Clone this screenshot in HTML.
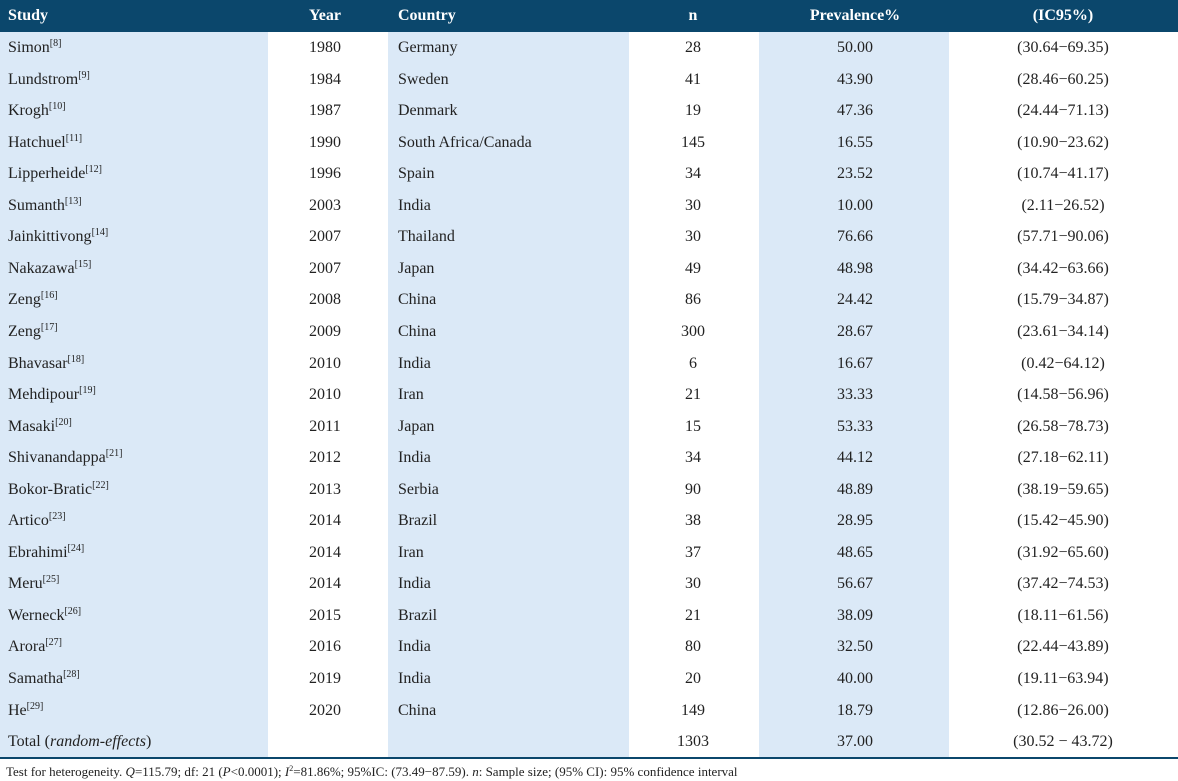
<!DOCTYPE html>
<html><head><meta charset="utf-8"><style>
body{margin:0;width:1178px;height:781px;background:#fff;font-family:"Liberation Serif",serif;position:relative;overflow:hidden}
.bg{position:absolute;top:32px;height:726px;background:#dbe9f7}
.hdr{position:absolute;left:0;top:0;width:1178px;height:32px;background:#0b476c}
.row{position:absolute;left:0;width:1178px;height:31.55px;line-height:31.55px;font-size:16px;color:#222}
.c{position:absolute;top:0;white-space:nowrap}
.l{text-align:left}.m{text-align:center}
.h .c{color:#fff;font-weight:bold;line-height:32px}
sup{font-size:10px;line-height:0;vertical-align:6px}
.line{position:absolute;left:0;top:757px;width:1178px;height:2px;background:#0b476c}
.foot{position:absolute;left:6px;top:764px;font-size:13px;color:#222;white-space:nowrap}
</style></head><body>
<div class="bg" style="left:0;width:268px"></div>
<div class="bg" style="left:388px;width:241px"></div>
<div class="bg" style="left:759px;width:190px"></div>
<div class="hdr">
 <div class="row h" style="top:0">
  <div class="c l" style="left:8px">Study</div>
  <div class="c m" style="left:285px;width:80px">Year</div>
  <div class="c l" style="left:398px">Country</div>
  <div class="c m" style="left:653px;width:80px">n</div>
  <div class="c m" style="left:775px;width:160px">Prevalence%</div>
  <div class="c m" style="left:983px;width:160px">(IC95%)</div>
 </div>
</div>
<div id="body"></div>
<div class="line"></div>
<div class="foot">Test for heterogeneity. <i>Q</i>=115.79; df: 21 (<i>P</i>&lt;0.0001); <i>I</i><sup style="font-size:8px;vertical-align:5px">2</sup>=81.86%; 95%IC: (73.49−87.59). <i>n</i>: Sample size; (95% CI): 95% confidence interval</div>
<script>
const studies=["Simon","Lundstrom","Krogh","Hatchuel","Lipperheide","Sumanth","Jainkittivong","Nakazawa","Zeng","Zeng","Bhavasar","Mehdipour","Masaki","Shivanandappa","Bokor-Bratic","Artico","Ebrahimi","Meru","Werneck","Arora","Samatha","He"];
const refs=[8,9,10,11,12,13,14,15,16,17,18,19,20,21,22,23,24,25,26,27,28,29];
const years=[1980,1984,1987,1990,1996,2003,2007,2007,2008,2009,2010,2010,2011,2012,2013,2014,2014,2014,2015,2016,2019,2020];
const countries=["Germany","Sweden","Denmark","South Africa/Canada","Spain","India","Thailand","Japan","China","China","India","Iran","Japan","India","Serbia","Brazil","Iran","India","Brazil","India","India","China"];
const ns=[28,41,19,145,34,30,30,49,86,300,6,21,15,34,90,38,37,30,21,80,20,149];
const prev=["50.00","43.90","47.36","16.55","23.52","10.00","76.66","48.98","24.42","28.67","16.67","33.33","53.33","44.12","48.89","28.95","48.65","56.67","38.09","32.50","40.00","18.79"];
const ci=["(30.64−69.35)","(28.46−60.25)","(24.44−71.13)","(10.90−23.62)","(10.74−41.17)","(2.11−26.52)","(57.71−90.06)","(34.42−63.66)","(15.79−34.87)","(23.61−34.14)","(0.42−64.12)","(14.58−56.96)","(26.58−78.73)","(27.18−62.11)","(38.19−59.65)","(15.42−45.90)","(31.92−65.60)","(37.42−74.53)","(18.11−61.56)","(22.44−43.89)","(19.11−63.94)","(12.86−26.00)"];
const body=document.getElementById('body');
function cell(row,html,cls,left,width,name){
 const d=document.createElement('div');
 d.className='c '+cls;d.style.left=left+'px';if(width)d.style.width=width+'px';
 d.innerHTML=html;
 
 
 row.appendChild(d);
}
function addRow(i,s,y,c,n,p,q){
 const r=document.createElement('div');
 r.className='row';r.style.top=(32+i*31.55)+'px';
 
 
 cell(r,s,'l',8,0,'study-cell');
 cell(r,y,'m',285,80,'year-cell');
 cell(r,c,'l',398,0,'country-cell');
 cell(r,n,'m',653,80,'n-cell');
 cell(r,p,'m',775,160,'prevalence-cell');
 cell(r,q,'m',983,160,'ci-cell');
 body.appendChild(r);
}
studies.forEach((s,i)=>addRow(i,s+'<sup>['+refs[i]+']</sup>',years[i],countries[i],ns[i],prev[i],ci[i]));
addRow(22,'Total (<i>random-effects</i>)','','','1303','37.00','(30.52 − 43.72)');
</script>
</body></html>
